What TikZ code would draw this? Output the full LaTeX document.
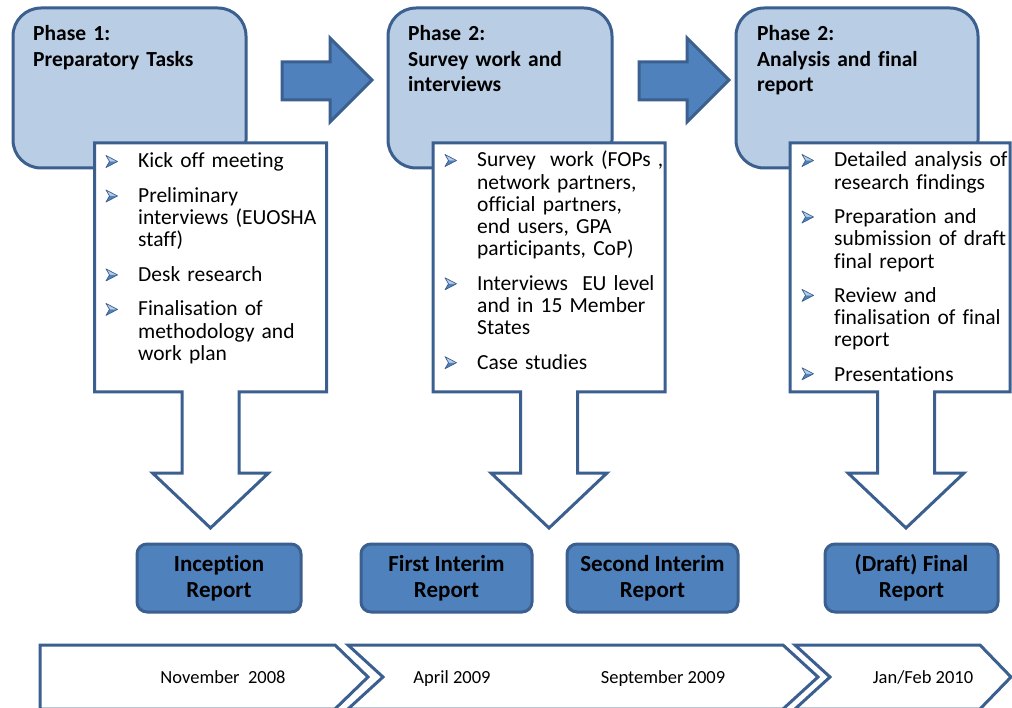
\documentclass[tikz,border=0pt]{standalone}
\usepackage{fontspec}
\setmainfont{Carlito}[Ligatures=NoCommon]

\definecolor{phaseFill}{HTML}{B9CDE5}
\definecolor{lineBlue}{HTML}{3B5F8F}
\definecolor{reportFill}{HTML}{4F81BD}

\newcommand{\itemgap}{\par\vspace{12.3pt}}

\begin{document}
\begin{tikzpicture}[x=1pt, y=-1pt,
    phasebox/.style={draw=lineBlue, line width=3pt, fill=phaseFill, rounded corners=28pt},
    phasetitle/.style={anchor=base west, inner sep=0pt, text width=210pt, align=left,
        font=\bfseries\fontsize{21.5}{25.5}\selectfont},
    blockarrow/.style={draw=lineBlue, line width=3pt, fill=reportFill, line join=miter},
    listbox/.style={draw=lineBlue, line width=3pt, fill=white, line join=miter},
    listtext/.style={anchor=base west, inner sep=0pt, text width=200pt, align=left,
        font=\fontsize{21.5}{22.2}\selectfont},
    bullet/.style={draw=lineBlue, line width=0.7pt, line join=round},
    report/.style={draw=lineBlue, line width=3pt, fill=reportFill, rounded corners=10pt,
        minimum height=68pt, align=center, inner sep=0pt,
        font=\bfseries\fontsize{23}{26.5}\selectfont},
    chevron/.style={draw=lineBlue, line width=3pt, fill=white, line join=miter},
    datetext/.style={anchor=base, inner sep=0pt, font=\fontsize{18.5}{20}\selectfont}]

    \useasboundingbox (0,0) rectangle (1012,708);
    \clip (0,0) rectangle (1012,708);

    % phases
    \draw[phasebox] (13,8) rectangle (246,168);
    \draw[phasebox] (388,8) rectangle (612,168);
    \draw[phasebox] (736,8) rectangle (978,168);

    \node[phasetitle] (title1) at (33,41) {Phase 1:\\Preparatory Tasks};
    \node[phasetitle] (title2) at (408,41) {Phase 2:\\Survey work and\\interviews};
    \node[phasetitle] (title3) at (757,41) {Phase 2:\\Analysis and final\\report};

    \foreach \dx in {0,357}
        \draw[blockarrow, xshift=\dx] (282,62) -- (330,62) -- (330,38) -- (372,80)
            -- (330,122) -- (330,100) -- (282,100) -- cycle;

    % task lists with down arrows
    \foreach \c/\r in {210.5/116, 549/116, 906/104}
        \draw[listbox] (\c-116,143) -- (\c+\r,143) -- (\c+\r,392) -- (\c+28.5,392)
            -- (\c+28.5,473) -- (\c+58,473) -- (\c,528) -- (\c-58,473) -- (\c-28.5,473)
            -- (\c-28.5,392) -- (\c-116,392) -- cycle;

    \foreach \bx/\by in {106/168, 106/202.5, 106/281.4, 106/315.9,
                         445/167, 445/290.3, 445/369.2,
                         802/167, 802/223.5, 802/301.9, 802/380.3} {
        \fill[phaseFill, shift={(\bx,\by)}] (0,-12.5) -- (11.5,-6.5) -- (3.5,-6.5) -- cycle;
        \fill[reportFill, shift={(\bx,\by)}] (0,-0.5) -- (11.5,-6.5) -- (3.5,-6.5) -- cycle;
        \draw[bullet, shift={(\bx,\by)}] (0,-0.5) -- (11.5,-6.5) -- (0,-12.5) -- (3.5,-6.5) -- cycle;
    }

    \node[listtext] (tasks1) at (138,168) {Kick off meeting\itemgap
        Preliminary\\interviews (EUOSHA\\staff)\itemgap
        Desk research\itemgap
        Finalisation of\\methodology and\\work plan};
    \node[listtext] (tasks2) at (477,167) {Survey\ \ work (FOPs ,\\network partners,\\official partners,\\end users, GPA\\participants, CoP)\itemgap
        Interviews\ \ EU level\\and in 15 Member\\States\itemgap
        Case studies};
    \node[listtext] (tasks3) at (834,167) {Detailed analysis of\\research findings\itemgap
        Preparation and\\submission of draft\\final report\itemgap
        Review and\\finalisation of final\\report\itemgap
        Presentations};

    % deliverables
    \node[report, minimum width=164pt] (inception) at (219,578) {Inception\\Report};
    \node[report, minimum width=171pt] (interim1) at (446.5,578) {First Interim\\Report};
    \node[report, minimum width=171pt] (interim2) at (652.5,578) {Second Interim\\Report};
    \node[report, minimum width=173pt] (final) at (911.5,578) {(Draft) Final\\Report};

    % timeline
    \draw[chevron] (40,645) -- (335,645) -- (368,677) -- (335,709) -- (40,709) -- cycle;
    \draw[chevron] (348,645) -- (783,645) -- (818,677) -- (783,709) -- (348,709) -- (383,677) -- cycle;
    \draw[chevron] (795,645) -- (980,645) -- (1011,677) -- (980,709) -- (795,709) -- (830,677) -- cycle;

    \node[datetext] (nov08) at (223,683) {November\ \ 2008};
    \node[datetext] (apr09) at (452,683) {April 2009};
    \node[datetext] (sep09) at (663,683) {September 2009};
    \node[datetext] (jan10) at (923,683) {Jan/Feb 2010};
\end{tikzpicture}
\end{document}
